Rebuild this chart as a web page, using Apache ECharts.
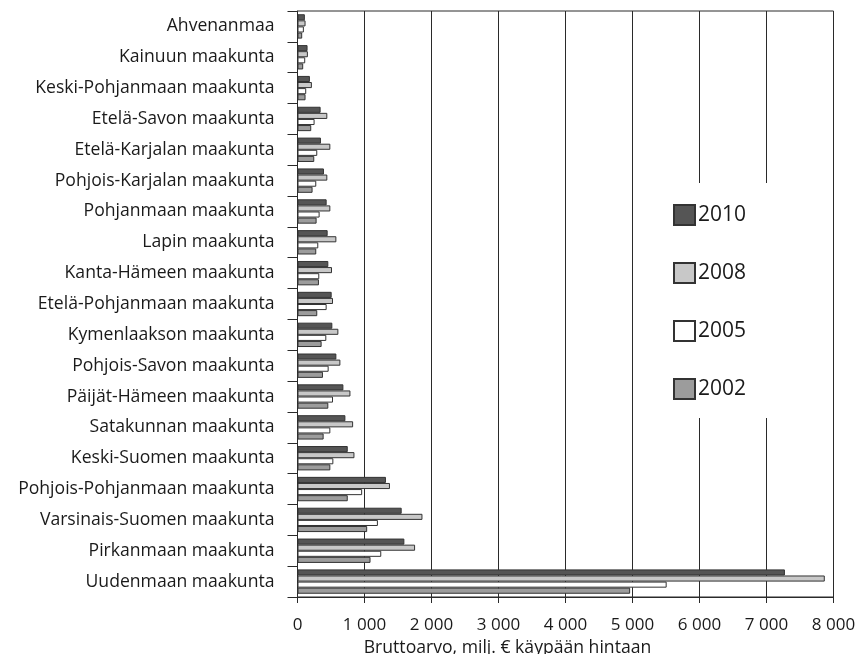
<!DOCTYPE html>
<html>
<head>
<meta charset="utf-8">
<script src="https://cdn.jsdelivr.net/npm/echarts@6/dist/echarts.min.js"></script>
<style>
  html, body { margin: 0; padding: 0; background: #fff; }
  #chart { width: 859px; height: 654px; }
</style>
</head>
<body>
<div id="chart"></div>
<script>
// Regions, listed top to bottom
const regions = [
  'Ahvenanmaa',
  'Kainuun maakunta',
  'Keski-Pohjanmaan maakunta',
  'Etelä-Savon maakunta',
  'Etelä-Karjalan maakunta',
  'Pohjois-Karjalan maakunta',
  'Pohjanmaan maakunta',
  'Lapin maakunta',
  'Kanta-Hämeen maakunta',
  'Etelä-Pohjanmaan maakunta',
  'Kymenlaakson maakunta',
  'Pohjois-Savon maakunta',
  'Päijät-Hämeen maakunta',
  'Satakunnan maakunta',
  'Keski-Suomen maakunta',
  'Pohjois-Pohjanmaan maakunta',
  'Varsinais-Suomen maakunta',
  'Pirkanmaan maakunta',
  'Uudenmaan maakunta'
];

// Gross value, million euros at current prices
const v2010 = [110, 150, 185, 345, 350, 395, 435, 450, 460, 510, 520, 580, 685, 715, 750, 1320, 1555, 1595, 7275];
const v2008 = [120, 155, 215, 445, 490, 445, 490, 580, 515, 530, 610, 640, 790, 830, 850, 1380, 1865, 1755, 7870];
const v2005 = [95, 115, 130, 255, 295, 280, 330, 310, 325, 435, 430, 465, 530, 490, 535, 965, 1200, 1250, 5510];
const v2002 = [70, 85, 120, 205, 250, 225, 285, 280, 320, 295, 360, 380, 460, 390, 490, 750, 1040, 1090, 4965];

const years = ['2010', '2008', '2005', '2002'];
const xTicks = [0, 1000, 2000, 3000, 4000, 5000, 6000, 7000, 8000];

const FONT = '"Open Sans"';
const TEXT = '#1a1a1a';
const LINE = '#2a2a2a';

const fills = ['#555555', '#c8c8c8', '#ffffff', '#9c9c9c'];
const values = [v2010, v2008, v2005, v2002];

const chart = echarts.init(document.getElementById('chart'), null, { renderer: 'canvas' });

chart.setOption({
  animation: false,
  backgroundColor: '#ffffff',
  textStyle: { fontFamily: FONT, color: TEXT },
  grid: {
    left: 297.5, right: 25.5, top: 11, bottom: 57,
    outerBoundsMode: 'none',
    containLabel: false,
    show: true, borderColor: LINE, borderWidth: 1,
    backgroundColor: 'transparent'
  },
  legend: {
    orient: 'vertical',
    left: 658, top: 183,
    data: years,
    itemWidth: 21, itemHeight: 20,
    itemGap: 36,
    padding: [21, 40, 18, 15],
    backgroundColor: '#ffffff',
    icon: 'rect',
    textStyle: { fontFamily: FONT, fontSize: 21, lineHeight: 20, color: TEXT, padding: [0, 0, 0, -2] },
    z: 10
  },
  xAxis: {
    type: 'value',
    min: xTicks[0], max: xTicks[xTicks.length - 1], interval: 1000,
    name: 'Bruttoarvo, milj. € käypään hintaan',
    nameLocation: 'middle',
    nameGap: 39.5,
    nameTextStyle: { fontFamily: FONT, fontSize: 17.6, color: TEXT, padding: [0, 116, 0, 0] },
    axisLine: { show: true, lineStyle: { color: LINE, width: 1 } },
    axisTick: { show: true, length: 6, lineStyle: { color: LINE } },
    axisLabel: {
      fontFamily: FONT, fontSize: 17, color: TEXT, margin: 20,
      formatter: v => String(v).replace(/\B(?=(\d{3})+(?!\d))/g, ' ')
    },
    splitLine: { show: true, lineStyle: { color: LINE, width: 1 } }
  },
  yAxis: {
    type: 'category',
    data: regions,
    inverse: true,
    axisLine: { show: true, lineStyle: { color: LINE, width: 1 } },
    axisTick: { show: true, length: 10, alignWithLabel: false, lineStyle: { color: LINE } },
    axisLabel: { fontFamily: FONT, fontSize: 17.6, color: TEXT, margin: 23 },
    splitLine: { show: false }
  },
  series: years.map((y, i) => ({
    name: y,
    type: 'bar',
    data: values[i],
    barGap: '0%',
    barCategoryGap: '21%',
    itemStyle: { color: fills[i], borderColor: '#333333', borderWidth: 1 }
  }))
});
</script>
</body>
</html>
